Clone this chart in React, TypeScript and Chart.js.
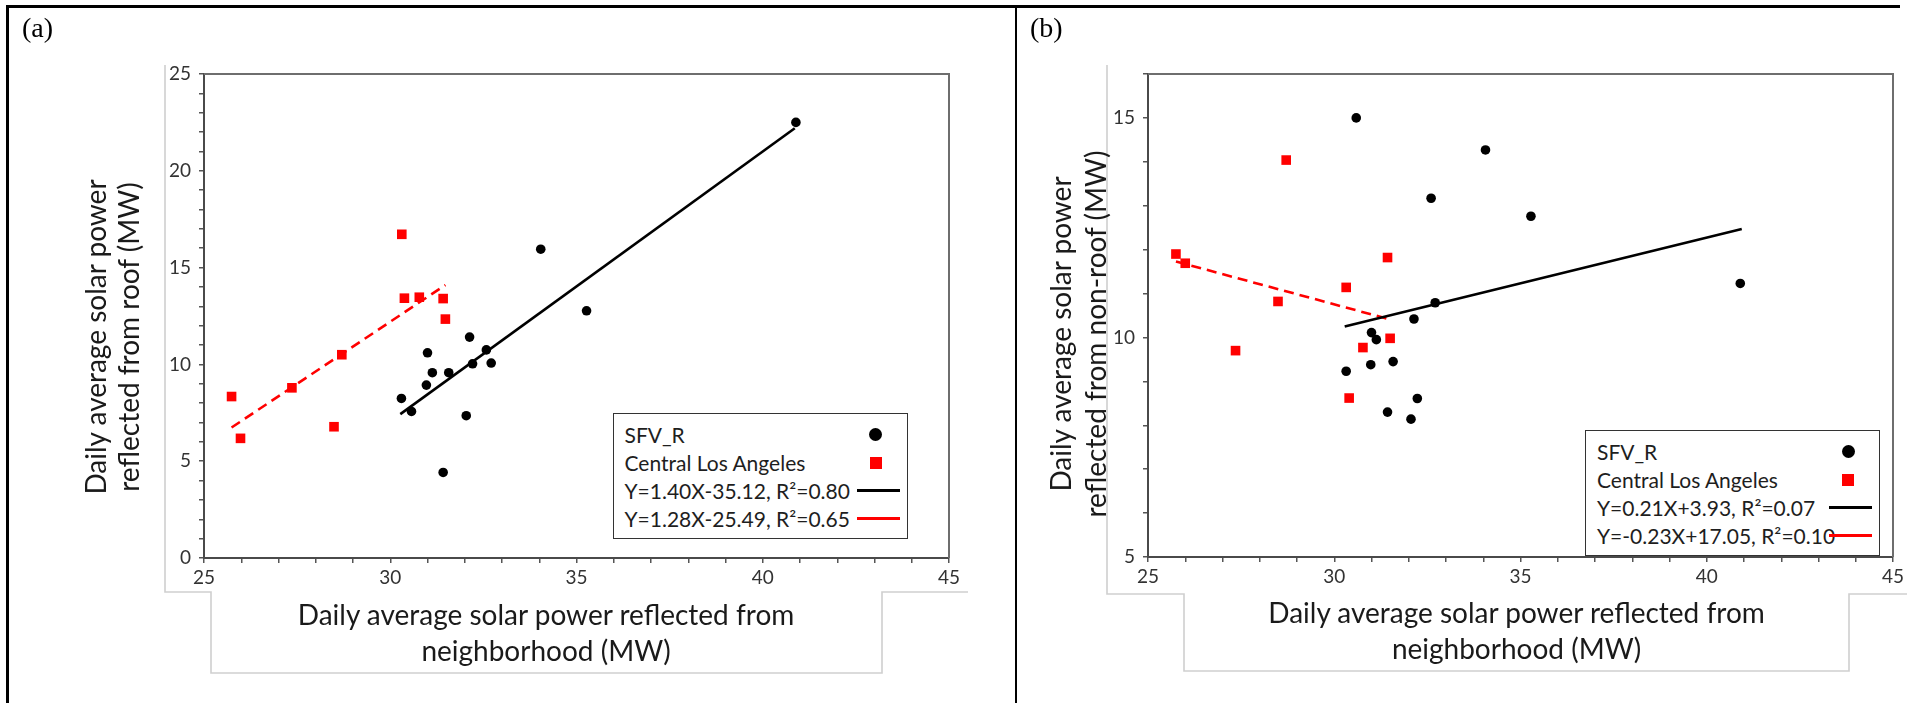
import React, { useEffect, useRef } from "react";
import { Chart, registerables } from "chart.js";

Chart.register(...registerables);

// ---------- Data: panel (a) roof ----------
const xTickLabels = [25, 30, 35, 40, 45];
const roofYTickLabels = [0, 5, 10, 15, 20, 25];
const nonRoofYTickLabels = [5, 10, 15];

const roofSfvX = [30.3, 30.57, 31.0, 30.97, 31.13, 31.57, 31.42, 32.04, 32.13, 32.21, 32.58, 32.71, 34.04, 35.27, 40.89];
const roofSfvY = [8.24, 7.57, 10.6, 8.93, 9.57, 9.57, 4.42, 7.35, 11.41, 10.03, 10.75, 10.07, 15.95, 12.77, 22.5];
const roofClaX = [25.74, 25.98, 27.36, 28.7, 28.49, 30.31, 30.38, 30.78, 31.42, 31.48];
const roofClaY = [8.34, 6.18, 8.79, 10.5, 6.78, 16.72, 13.42, 13.47, 13.4, 12.34];
const roofSfvFitX = [30.27, 40.86];
const roofSfvFitY = [7.43, 22.2];
const roofClaFitX = [25.74, 31.48];
const roofClaFitY = [6.74, 14.1];

// ---------- Data: panel (b) non-roof ----------
const nonRoofSfvX = [30.59, 34.06, 32.6, 35.28, 32.71, 32.14, 31.0, 31.13, 30.32, 30.98, 31.58, 32.23, 31.43, 32.06, 40.9];
const nonRoofSfvY = [15.0, 14.27, 13.17, 12.76, 10.79, 10.42, 10.11, 9.95, 9.23, 9.38, 9.45, 8.61, 8.3, 8.14, 11.23];
const nonRoofClaX = [25.75, 26.0, 27.35, 28.49, 28.71, 30.32, 30.4, 30.77, 31.43, 31.5];
const nonRoofClaY = [11.9, 11.69, 9.7, 10.82, 14.04, 11.14, 8.62, 9.77, 11.82, 9.98];
const nonRoofSfvFitX = [30.28, 40.94];
const nonRoofSfvFitY = [10.25, 12.47];
const nonRoofClaFitX = [25.75, 31.5];
const nonRoofClaFitY = [11.73, 10.41];

const seriesNames = ["SFV_R", "Central Los Angeles"];
const roofFitLabels = ["Y=1.40X-35.12, R²=0.80", "Y=1.28X-25.49, R²=0.65"];
const nonRoofFitLabels = ["Y=0.21X+3.93, R²=0.07", "Y=-0.23X+17.05, R²=0.10"];

const xTitle = ["Daily average solar power reflected from", "neighborhood (MW)"];
const roofYTitle = ["Daily average solar power", "reflected from roof (MW)"];
const nonRoofYTitle = ["Daily average solar power", "reflected from non-roof (MW)"];

const SANS = "Lato, 'Open Sans', sans-serif";
const RED = "#ff0000";

const pts = (xs: number[], ys: number[]) => xs.map((x, i) => ({ x, y: ys[i] }));

const framePlugin = {
  id: "frame",
  beforeDatasetsDraw(chart: any) {
    const { ctx, chartArea: a } = chart;
    ctx.save();
    ctx.strokeStyle = "#6e6e6e";
    ctx.lineWidth = 2;
    ctx.beginPath();
    ctx.moveTo(a.left, a.top);
    ctx.lineTo(a.right, a.top);
    ctx.lineTo(a.right, a.bottom);
    ctx.stroke();
    ctx.restore();
  },
};

function buildConfig(o: {
  sfvX: number[]; sfvY: number[]; claX: number[]; claY: number[];
  sfvFitX: number[]; sfvFitY: number[]; claFitX: number[]; claFitY: number[];
  yMin: number; yMax: number; yLabels: number[];
  yAxisWidth: number; padRight: number; padTop: number; xAxisHeight: number;
}): any {
  const tickFont = { family: SANS, size: 19 };
  return {
    type: "scatter",
    data: {
      datasets: [
        {
          label: seriesNames[1],
          data: pts(o.claX, o.claY),
          pointStyle: "rect",
          pointRadius: 6.8,
          backgroundColor: RED,
          borderWidth: 0,
          order: 3,
        },
        {
          label: seriesNames[0],
          data: pts(o.sfvX, o.sfvY),
          pointStyle: "circle",
          pointRadius: 4.8,
          backgroundColor: "#000",
          borderWidth: 0,
          order: 4,
        },
        {
          label: "fit SFV",
          data: pts(o.sfvFitX, o.sfvFitY),
          showLine: true,
          borderColor: "#000",
          borderWidth: 2.6,
          pointRadius: 0,
          fill: false,
          order: 1,
        },
        {
          label: "fit CLA",
          data: pts(o.claFitX, o.claFitY),
          showLine: true,
          borderColor: RED,
          borderWidth: 2.6,
          borderDash: [10, 6],
          pointRadius: 0,
          fill: false,
          order: 2,
        },
      ],
    },
    options: {
      animation: false,
      responsive: false,
      maintainAspectRatio: false,
      layout: { padding: { left: 0, top: o.padTop, right: o.padRight, bottom: 0 } },
      plugins: { legend: { display: false }, tooltip: { enabled: false }, title: { display: false } },
      scales: {
        x: {
          type: "linear",
          min: 25,
          max: 45,
          afterFit: (s: any) => { s.height = o.xAxisHeight; },
          ticks: {
            stepSize: 1,
            autoSkip: false,
            maxRotation: 0,
            minRotation: 0,
            padding: 3,
            color: "#333",
            font: tickFont,
            callback: (v: any) => (xTickLabels.includes(Number(v)) ? String(v) : ""),
          },
          grid: { drawOnChartArea: false, drawTicks: true, tickLength: 5, color: "#555", lineWidth: 1.5 },
          border: { display: true, color: "#4a4a4a", width: 2 },
        },
        y: {
          type: "linear",
          min: o.yMin,
          max: o.yMax,
          afterFit: (s: any) => { s.width = o.yAxisWidth; },
          ticks: {
            stepSize: 1,
            autoSkip: false,
            padding: 8,
            color: "#333",
            font: tickFont,
            callback: (v: any) => (o.yLabels.includes(Number(v)) ? String(v) : ""),
          },
          grid: { drawOnChartArea: false, drawTicks: true, tickLength: 5, color: "#555", lineWidth: 1.5 },
          border: { display: true, color: "#4a4a4a", width: 2 },
        },
      },
    },
    plugins: [framePlugin],
  };
}

const abs = (s: React.CSSProperties): React.CSSProperties => ({ position: "absolute", ...s });

function GrayFrame({ pts: p }: { pts: number[][] }) {
  const d = p.map((q, i) => `${i ? "L" : "M"}${q[0]} ${q[1]}`).join(" ");
  return <path d={d} fill="none" stroke="#cfcfcf" strokeWidth={1.6} />;
}

function Legend({ left, top, fits }: { left: number; top: number; fits: string[] }) {
  const rows = [21, 49.5, 77, 105];
  const txt: React.CSSProperties = { fontFamily: SANS, fontSize: 21, color: "#1e1e1e", whiteSpace: "nowrap", lineHeight: "24px" };
  const labels = [seriesNames[0], seriesNames[1], fits[0], fits[1]];
  return (
    <div style={abs({ left, top, width: 295, height: 126, border: "1.5px solid #333", background: "#fff", boxSizing: "border-box" })}>
      {labels.map((l, i) => (
        <div key={i} style={abs({ left: 11, top: rows[i] - 12, ...txt })}>{l}</div>
      ))}
      <div style={abs({ left: 262 - 6.5, top: rows[0] - 6.5, width: 13, height: 13, borderRadius: "50%", background: "#000" })} />
      <div style={abs({ left: 262 - 6, top: rows[1] - 6, width: 12, height: 12, background: RED })} />
      <div style={abs({ left: 243, top: rows[2] - 1.5, width: 43, height: 3, background: "#000" })} />
      <div style={abs({ left: 243, top: rows[3] - 1.5, width: 43, height: 3, background: RED })} />
    </div>
  );
}

function YTitle({ cx, cy, lines, lh }: { cx: number; cy: number; lines: string[]; lh: number }) {
  const W = 480;
  const H = lh * lines.length;
  return (
    <div
      style={abs({
        left: cx - W / 2, top: cy - H / 2, width: W, height: H,
        transform: "rotate(-90deg)", textAlign: "center",
        fontFamily: SANS, fontSize: 28, lineHeight: `${lh}px`, color: "#1a1a1a", whiteSpace: "nowrap",
      })}
    >
      {lines.map((l, i) => <div key={i}>{l}</div>)}
    </div>
  );
}

function XTitle({ cx, cy, lines, lh }: { cx: number; cy: number; lines: string[]; lh: number }) {
  const W = 720;
  const H = lh * lines.length;
  return (
    <div
      style={abs({
        left: cx - W / 2, top: cy - H / 2, width: W, height: H, textAlign: "center",
        fontFamily: SANS, fontSize: 28, lineHeight: `${lh}px`, color: "#1a1a1a", whiteSpace: "nowrap",
      })}
    >
      {lines.map((l, i) => <div key={i}>{l}</div>)}
    </div>
  );
}

export default function App() {
  const refA = useRef<HTMLCanvasElement>(null);
  const refB = useRef<HTMLCanvasElement>(null);

  useEffect(() => {
    const a = new Chart(refA.current as HTMLCanvasElement, buildConfig({
      sfvX: roofSfvX, sfvY: roofSfvY, claX: roofClaX, claY: roofClaY,
      sfvFitX: roofSfvFitX, sfvFitY: roofSfvFitY, claFitX: roofClaFitX, claFitY: roofClaFitY,
      yMin: 0, yMax: 25, yLabels: roofYTickLabels,
      yAxisWidth: 204, padRight: 1016 - 949, padTop: 74, xAxisHeight: 703 - 558,
    }));
    const b = new Chart(refB.current as HTMLCanvasElement, buildConfig({
      sfvX: nonRoofSfvX, sfvY: nonRoofSfvY, claX: nonRoofClaX, claY: nonRoofClaY,
      sfvFitX: nonRoofSfvFitX, sfvFitY: nonRoofSfvFitY, claFitX: nonRoofClaFitX, claFitY: nonRoofClaFitY,
      yMin: 5, yMax: 16, yLabels: nonRoofYTickLabels,
      yAxisWidth: 1148 - 1016, padRight: 1910 - 1893, padTop: 74, xAxisHeight: 703 - 557,
    }));
    return () => { a.destroy(); b.destroy(); };
  }, []);

  return (
    <div style={{ position: "fixed", left: 0, top: 0, width: 1910, height: 703, background: "#fff", overflow: "hidden" }}>
      <svg width={1910} height={703} style={abs({ left: 0, top: 0 })}>
        <GrayFrame pts={[[165, 65], [165, 592], [211, 592], [211, 673], [882, 673], [882, 592], [968, 592]]} />
        <GrayFrame pts={[[1107, 65], [1107, 594], [1184, 594], [1184, 671], [1849, 671], [1849, 594], [1907, 594]]} />
      </svg>
      <canvas ref={refA} width={1016} height={703} style={abs({ left: 0, top: 0, width: 1016, height: 703 })} />
      <canvas ref={refB} width={894} height={703} style={abs({ left: 1016, top: 0, width: 894, height: 703 })} />

      <div style={abs({ left: 6, top: 5, width: 1894, height: 2.5, background: "#000" })} />
      <div style={abs({ left: 6, top: 5, width: 2.5, height: 698, background: "#000" })} />
      <div style={abs({ left: 1015, top: 5, width: 2, height: 698, background: "#000" })} />

      <div style={abs({ left: 22, top: 14, fontFamily: "'Liberation Serif', 'DejaVu Serif', serif", fontSize: 28, lineHeight: "28px", color: "#000" })}>(a)</div>
      <div style={abs({ left: 1030, top: 14, fontFamily: "'Liberation Serif', 'DejaVu Serif', serif", fontSize: 28, lineHeight: "28px", color: "#000" })}>(b)</div>

      <YTitle cx={111.5} cy={337} lines={roofYTitle} lh={33} />
      <YTitle cx={1078} cy={334} lines={nonRoofYTitle} lh={35} />
      <XTitle cx={546} cy={632} lines={xTitle} lh={36} />
      <XTitle cx={1516.5} cy={630} lines={xTitle} lh={36} />

      <Legend left={612.5} top={412.5} fits={roofFitLabels} />
      <Legend left={1585} top={429.5} fits={nonRoofFitLabels} />
    </div>
  );
}
